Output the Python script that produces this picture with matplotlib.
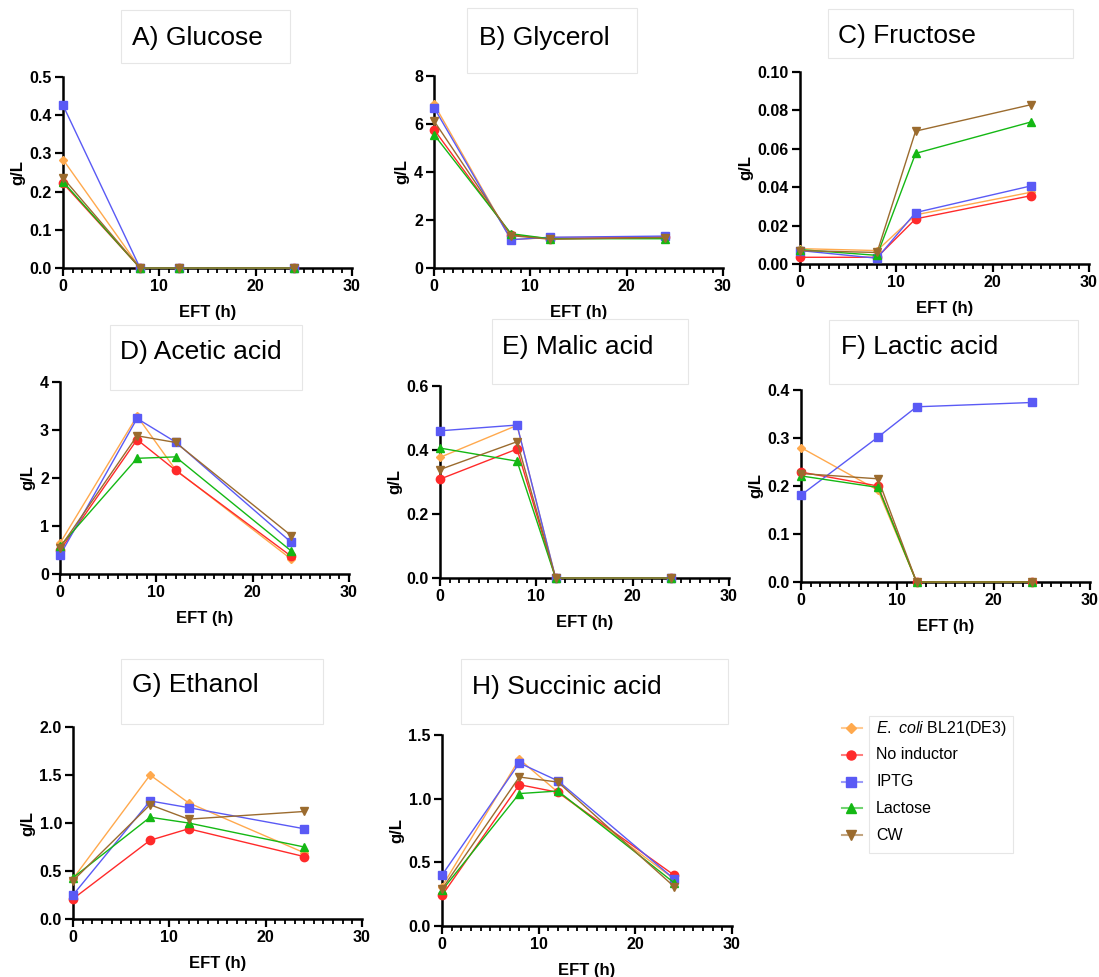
import matplotlib
matplotlib.use("Agg")
import matplotlib.pyplot as plt
from matplotlib.lines import Line2D
from matplotlib.patches import Rectangle
import numpy as np

plt.rcParams['font.family'] = ['Liberation Sans', 'DejaVu Sans']
plt.rcParams['mathtext.fontset'] = 'custom'
plt.rcParams['mathtext.it'] = 'Liberation Sans:italic'
plt.rcParams['mathtext.rm'] = 'Liberation Sans'

# sampling times (h)
eft = [0, 8, 12, 24]

series = ["E. coli BL21(DE3)", "No inductor", "IPTG", "Lactose", "CW"]
colors = ["#FFA94D", "#FF2A2A", "#5A5AF5", "#14B814", "#9B6B2E"]
markers = ["D", "o", "s", "^", "v"]
msizes = [4.5, 6, 6, 6, 6]

# values per panel, order: E. coli, No inductor, IPTG, Lactose, CW
glucose = [[0.284, 0, 0, 0], [0.222, 0, 0, 0], [0.426, 0, 0, 0],
           [0.226, 0, 0, 0], [0.236, 0, 0, 0]]
glycerol = [[6.83, 1.18, 1.27, 1.29], [5.77, 1.38, 1.22, 1.28], [6.68, 1.18, 1.28, 1.33],
            [5.56, 1.43, 1.22, 1.22], [6.13, 1.35, 1.20, 1.27]]
fructose = [[0.008, 0.007, 0.0256, 0.0374], [0.0035, 0.0035, 0.0235, 0.0356],
            [0.007, 0.003, 0.0268, 0.0407], [0.0075, 0.0045, 0.0576, 0.074],
            [0.007, 0.006, 0.0692, 0.083]]
acetic = [[0.64, 3.29, 2.17, 0.31], [0.49, 2.80, 2.16, 0.37], [0.39, 3.24, 2.75, 0.66],
          [0.58, 2.41, 2.44, 0.48], [0.55, 2.88, 2.74, 0.80]]
malic = [[0.377, 0.477, 0, 0], [0.309, 0.403, 0, 0], [0.460, 0.478, 0, 0],
         [0.406, 0.365, 0, 0], [0.339, 0.426, 0, 0]]
lactic = [[0.280, 0.191, 0, 0], [0.229, 0.200, 0, 0], [0.181, 0.302, 0.365, 0.374],
          [0.221, 0.197, 0, 0], [0.226, 0.215, 0, 0]]
ethanol = [[0.42, 1.50, 1.21, 0.69], [0.21, 0.82, 0.94, 0.65], [0.25, 1.23, 1.16, 0.94],
           [0.43, 1.06, 1.00, 0.75], [0.40, 1.19, 1.04, 1.12]]
succinic = [[0.31, 1.31, 1.05, 0.37], [0.24, 1.11, 1.05, 0.40], [0.40, 1.28, 1.14, 0.37],
            [0.28, 1.04, 1.06, 0.34], [0.29, 1.17, 1.13, 0.31]]

titles = ["A) Glucose", "B) Glycerol", "C) Fructose", "D) Acetic acid",
          "E) Malic acid", "F) Lactic acid", "G) Ethanol", "H) Succinic acid"]
panels = [glucose, glycerol, fructose, acetic, malic, lactic, ethanol, succinic]
yticks = [np.arange(0, 0.51, 0.1), np.arange(0, 8.1, 2), np.arange(0, 0.101, 0.02),
          np.arange(0, 4.1, 1), np.arange(0, 0.61, 0.2), np.arange(0, 0.41, 0.1),
          np.arange(0, 2.01, 0.5), np.arange(0, 1.51, 0.5)]
yfmt = ["%.1f", "%d", "%.2f", "%d", "%.1f", "%.1f", "%.1f", "%.1f"]

W, H = 1099, 977
# axes boxes in pixels: left, right, top, bottom
boxes = [(63, 352, 77, 268), (434, 723, 76, 268), (800, 1089, 72, 264),
         (60, 349, 382, 574), (440, 729, 386, 578), (801, 1090, 390, 582),
         (73, 362, 727, 919), (442, 732, 735, 926)]
# title boxes in pixels: left, right, top, bottom
tboxes = [(121, 290, 10, 63), (467, 637, 8, 73), (828, 1073, 9, 58),
          (110, 302, 325, 390), (492, 688, 319, 384), (829, 1078, 320, 384),
          (121, 323, 659, 724), (461, 728, 659, 724)]
# title text anchor (left x, center y) in pixels
tpos = [(132, 38), (479, 38), (838, 36), (120, 352), (502, 347), (841, 347),
        (132, 685), (472, 687)]

fig = plt.figure(figsize=(W / 100, H / 100), dpi=100)

for i in range(8):
    l, r, t, b = boxes[i]
    ax = fig.add_axes([l / W, 1 - b / H, (r - l) / W, (b - t) / H])
    for k in range(5):
        ax.plot(eft, panels[i][k], color=colors[k], marker=markers[k],
                markersize=msizes[k], linewidth=1.0, clip_on=False, zorder=3 + k * 0.1)
    ax.set_xlim(0, 30)
    yt = yticks[i]
    ax.set_ylim(0, yt[-1])
    ax.set_yticks(yt)
    ax.set_yticklabels([yfmt[i] % v for v in yt])
    ax.set_xticks([0, 10, 20, 30])
    ax.set_xticks(np.arange(0, 31, 1), minor=True)
    ax.spines['top'].set_visible(False)
    ax.spines['right'].set_visible(False)
    ax.spines['left'].set_linewidth(1.8)
    ax.spines['bottom'].set_linewidth(1.8)
    ax.tick_params(axis='both', which='major', width=1.6, length=6, labelsize=11.5, pad=2)
    ax.tick_params(axis='x', which='minor', width=1.3, length=3.5)
    for lab in ax.get_xticklabels() + ax.get_yticklabels():
        lab.set_fontweight('bold')
    ax.set_xlabel("EFT (h)", fontsize=12, fontweight='bold', labelpad=8)
    ax.set_ylabel("g/L", fontsize=12, fontweight='bold', labelpad=3)

    tl, tr, tt, tb = tboxes[i]
    fig.add_artist(Rectangle((tl / W, 1 - tb / H), (tr - tl) / W, (tb - tt) / H,
                             transform=fig.transFigure, facecolor='white',
                             edgecolor='#e6e6e6', linewidth=0.8))
    tx, ty = tpos[i]
    fig.text(tx / W, 1 - ty / H, titles[i], fontsize=19, va='center', ha='left')

# legend
fig.add_artist(Rectangle((869 / W, 1 - 853 / H), (1013 - 869) / W, (853 - 716) / H,
                         transform=fig.transFigure, facecolor='white',
                         edgecolor='#e6e6e6', linewidth=0.8))
leg_labels = [r"$\it{E.\ coli}$ BL21(DE3)", "No inductor", "IPTG", "Lactose", "CW"]
for k in range(5):
    y = 1 - (728 + k * 26.8) / H
    fig.add_artist(Line2D([842 / W, 862 / W], [y, y], transform=fig.transFigure,
                          color=colors[k], alpha=0.6, linewidth=1.5))
    fig.add_artist(Line2D([851 / W], [y], transform=fig.transFigure, color=colors[k],
                          marker=markers[k], markersize=msizes[k] + 0.5, linestyle='none'))
    fig.text(876 / W, y, leg_labels[k], fontsize=11.5, va='center', ha='left')

fig.savefig("out.png", dpi=100)
